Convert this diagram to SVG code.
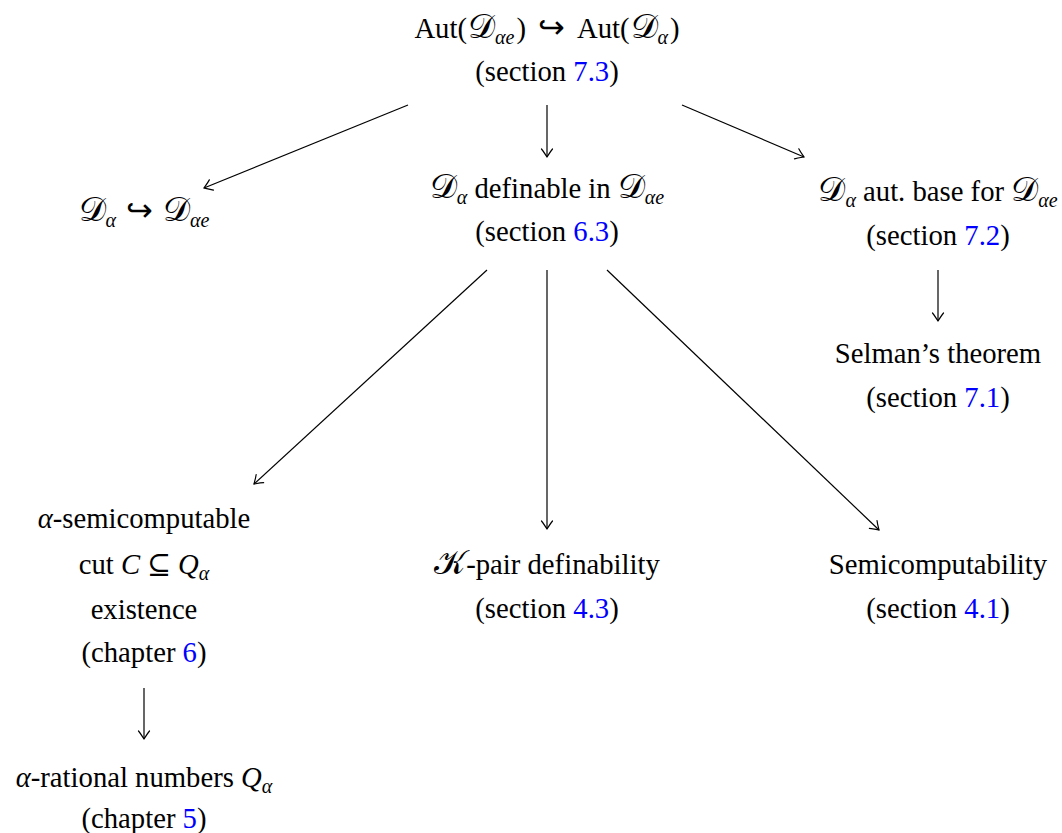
<svg xmlns="http://www.w3.org/2000/svg" width="1062" height="833" viewBox="0 0 1062 833">
<defs>
<style>
text{font-family:"Liberation Serif","DejaVu Serif",serif;font-size:28.7px;fill:#000;text-anchor:middle}
.i{font-style:italic}
.s{font-size:20px;font-style:italic}
.cal{font-family:"DejaVu Serif","Noto Sans",serif;font-style:normal;font-size:34px}
.ar{font-family:"DejaVu Sans ExtraLight","DejaVu Sans",sans-serif;font-weight:200;font-size:32px}
.l{fill:#0000ff}
.c line{stroke:#000;stroke-width:1.2;fill:none;marker-end:url(#ah)}
</style>
<marker id="ah" markerUnits="userSpaceOnUse" viewBox="-10 -7 12 14" refX="0" refY="0" markerWidth="12" markerHeight="14" orient="auto">
<path d="M-8,-5.5 C-5,-3 -1.5,-1 0,0 C-1.5,1 -5,3 -8,5.5" fill="none" stroke="#000" stroke-width="1.2" stroke-linecap="round"/>
</marker>
</defs>
<rect width="1062" height="833" fill="#fff"/>
<g class="c" id="connectors">
<line x1="408" y1="105" x2="204" y2="188"/>
<line x1="547" y1="105" x2="547" y2="157"/>
<line x1="682" y1="105" x2="804" y2="157"/>
<line x1="487" y1="270" x2="254" y2="484"/>
<line x1="547" y1="270" x2="547" y2="529"/>
<line x1="607" y1="270" x2="879" y2="530"/>
<line x1="938" y1="270" x2="938" y2="321"/>
<line x1="144" y1="688" x2="144" y2="739"/>
</g>
<g id="n-aut">
<text x="547" y="38">Aut(<tspan class="cal" dx="1">𝒟</tspan><tspan class="s" dy="6">αe</tspan><tspan dy="-6" dx="2">)</tspan><tspan class="ar" dx="12">↪</tspan><tspan dx="12">Aut(</tspan><tspan class="cal" dx="1">𝒟</tspan><tspan class="s" dy="6">α</tspan><tspan dy="-6" dx="2">)</tspan></text>
<text x="547" y="81">(section <tspan class="l">7.3</tspan>)</text>
</g>
<g id="n-emb">
<text x="144" y="221"><tspan class="cal">𝒟</tspan><tspan class="s" dy="6">α</tspan><tspan class="ar" dy="-6" dx="10">↪</tspan><tspan class="cal" dx="10">𝒟</tspan><tspan class="s" dy="6">αe</tspan></text>
</g>
<g id="n-def">
<text x="547" y="198"><tspan class="cal">𝒟</tspan><tspan class="s" dy="6">α</tspan><tspan dy="-6"> definable in </tspan><tspan class="cal">𝒟</tspan><tspan class="s" dy="6">αe</tspan></text>
<text x="547" y="241">(section <tspan class="l">6.3</tspan>)</text>
</g>
<g id="n-base">
<text x="938" y="201"><tspan class="cal">𝒟</tspan><tspan class="s" dy="6">α</tspan><tspan dy="-6"> aut. base for </tspan><tspan class="cal">𝒟</tspan><tspan class="s" dy="6">αe</tspan></text>
<text x="938" y="245">(section <tspan class="l">7.2</tspan>)</text>
</g>
<g id="n-selman">
<text x="938" y="363">Selman’s theorem</text>
<text x="938" y="407">(section <tspan class="l">7.1</tspan>)</text>
</g>
<g id="n-cut">
<text x="144" y="528"><tspan class="i">α</tspan>-semicomputable</text>
<text x="144" y="574">cut <tspan class="i">C</tspan><tspan dx="7">⊆</tspan><tspan class="i" dx="7">Q</tspan><tspan class="s" dy="6">α</tspan></text>
<text x="144" y="619">existence</text>
<text x="144" y="662">(chapter <tspan class="l">6</tspan>)</text>
</g>
<g id="n-kpair">
<text x="547" y="574"><tspan class="cal">𝒦</tspan>-pair definability</text>
<text x="547" y="618">(section <tspan class="l">4.3</tspan>)</text>
</g>
<g id="n-semi">
<text x="938" y="574">Semicomputability</text>
<text x="938" y="618">(section <tspan class="l">4.1</tspan>)</text>
</g>
<g id="n-rat">
<text x="144" y="787"><tspan class="i">α</tspan>-rational numbers <tspan class="i">Q</tspan><tspan class="s" dy="6">α</tspan></text>
<text x="144" y="828">(chapter <tspan class="l">5</tspan>)</text>
</g>
</svg>
